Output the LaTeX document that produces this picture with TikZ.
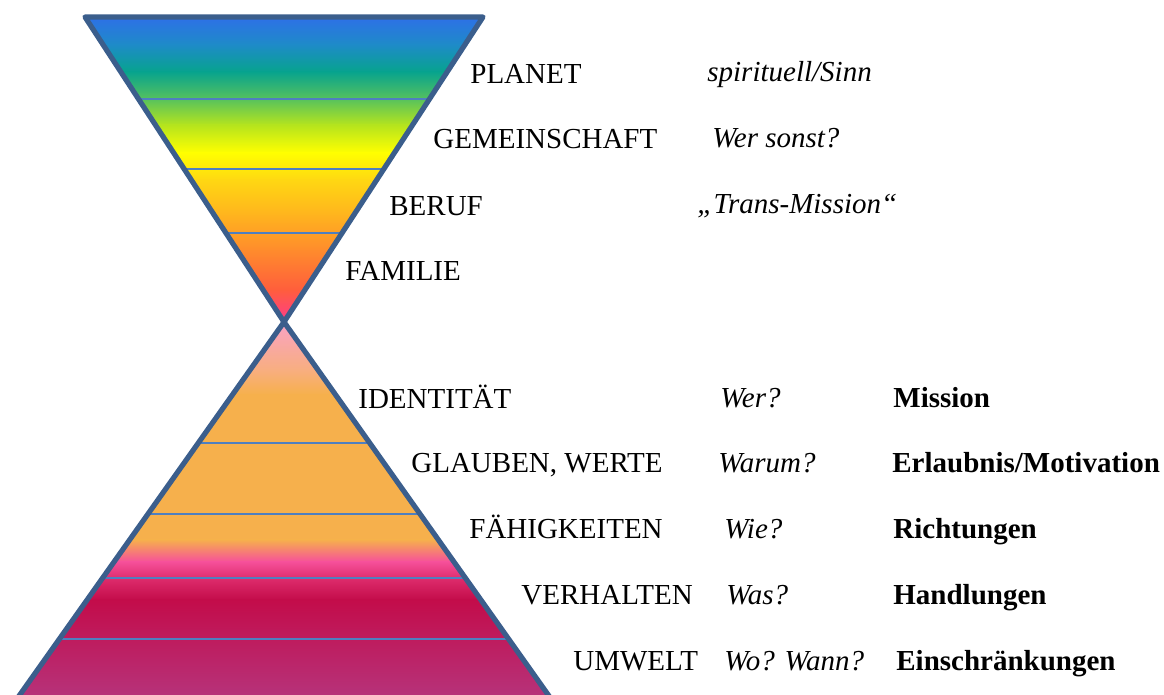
\documentclass[tikz,border=0pt]{standalone}
\usepackage{fontspec}
\setmainfont{Liberation Serif}
\usepackage{tikz}
\usetikzlibrary{positioning,calc}
\usepackage{xcolor}
\definecolor{Frame}{HTML}{3B5E8C}
\definecolor{Divider}{HTML}{4F7FC0}
% top funnel
\definecolor{TopA}{HTML}{2E6FE8}
\definecolor{TopB}{HTML}{1E8BC8}
\definecolor{TopC}{HTML}{07A38E}
\definecolor{TopD}{HTML}{52C060}
\definecolor{TopE}{HTML}{B4E41E}
\definecolor{TopF}{HTML}{FFFF00}
\definecolor{TopG}{HTML}{FFD812}
\definecolor{TopH}{HTML}{FFB41E}
\definecolor{TopI}{HTML}{FF8C2C}
\definecolor{TopJ}{HTML}{FF5E3C}
\definecolor{TopK}{HTML}{FF3A8E}
% bottom pyramid
\definecolor{BotA}{HTML}{F9A2C6}
\definecolor{BotB}{HTML}{F8AE80}
\definecolor{BotC}{HTML}{F6B04C}
\definecolor{BotD}{HTML}{F6B04C}
\definecolor{BotE}{HTML}{F6509A}
\definecolor{BotF}{HTML}{DC2A6A}
\definecolor{BotG}{HTML}{C30C4A}
\definecolor{BotH}{HTML}{BE1C5E}
\definecolor{BotI}{HTML}{B33C86}

\tikzset{
  level/.style={anchor=base west,inner sep=0pt},
  question/.style={anchor=base west,inner sep=0pt,font=\fontsize{14.5}{17}\selectfont\itshape},
  purpose/.style={anchor=base west,inner sep=0pt,font=\fontsize{14.5}{17}\selectfont\bfseries},
  divider/.style={Divider,line width=1pt},
  frame/.style={Frame,line width=2.6pt,line join=round}
}

\begin{document}
\begin{tikzpicture}[x=0.5pt,y=-0.5pt,font=\fontsize{14.5}{17}\selectfont]
  \useasboundingbox (0,0) rectangle (1164,695);
  \coordinate (tl) at (85,17);
  \coordinate (tr) at (483,17);
  \coordinate (mid) at (284,322);
  \coordinate (bl) at (2,720);
  \coordinate (br) at (566,720);

  % colour bands
  \begin{scope}
    \clip (tl) -- (tr) -- (mid) -- cycle;
    \foreach \ya/\ca/\yb/\cb in {16/TopA/45/TopB,44.5/TopB/72/TopC,71.5/TopC/98/TopD,
        97.5/TopD/125/TopE,124.5/TopE/153/TopF,152.5/TopF/180/TopG,179.5/TopG/215/TopH,
        214.5/TopH/250/TopI,249.5/TopI/290/TopJ,289.5/TopJ/323/TopK}
      \shade[top color=\ca,bottom color=\cb] (80,\ya) rectangle (490,\yb);
  \end{scope}
  \begin{scope}
    \clip (0,0) rectangle (1164,695);
    \clip (mid) -- (br) -- (bl) -- cycle;
    \foreach \ya/\ca/\yb/\cb in {321/BotA/370/BotB,369.5/BotB/395/BotC,394.5/BotC/540/BotD,
        539.5/BotD/562/BotE,561.5/BotE/580/BotF,579.5/BotF/600/BotG,599.5/BotG/640/BotH,
        639.5/BotH/721/BotI}
      \shade[top color=\ca,bottom color=\cb] (0,\ya) rectangle (580,\yb);
  \end{scope}

  % layer lines
  \foreach \y in {99,169,233}
    \draw[divider] ($(tl)!{(\y-17)/305}!(mid)$) -- ($(tr)!{(\y-17)/305}!(mid)$);
  \foreach \y in {443,514,578,639}
    \draw[divider] ($(mid)!{(\y-322)/398}!(bl)$) -- ($(mid)!{(\y-322)/398}!(br)$);

  % outlines
  \begin{scope}
    \clip (0,0) rectangle (1164,695);
    \draw[frame] (tl) -- (tr) -- (mid) -- cycle;
    \draw[frame] (bl) -- (mid) -- (br);
  \end{scope}

  % upper levels
  \node[level] (planet) at (470,84) {PLANET};
  \node[level] (gemein) at (433,149) {GEMEINSCHAFT};
  \node[level] (beruf) at (389,216) {BERUF};
  \node[level] (familie) at (345,281) {FAMILIE};
  \node[question] (qplanet) at (707,82) {spirituell/Sinn};
  \node[question] (qgemein) at (712,148) {Wer sonst?};
  \node[question] (qberuf) at (697,214) {„Trans-Mission“};

  % lower levels
  \node[level] (ident) at (358,409) {IDENTITÄT};
  \node[level] (glauben) at (411,473) {GLAUBEN, WERTE};
  \node[level] (faehig) at (469,539) {FÄHIGKEITEN};
  \node[level] (verhalt) at (521,605) {VERHALTEN};
  \node[level] (umwelt) at (573,671) {UMWELT};
  \node[question] (qident) at (720,408) {Wer?};
  \node[question] (qglauben) at (718,473) {Warum?};
  \node[question] (qfaehig) at (724,539) {Wie?};
  \node[question] (qverhalt) at (726,605) {Was?};
  \node[question] (qumwelt) at (724,671) {Wo? Wann?};
  \node[purpose] (pident) at (893,408) {Mission};
  \node[purpose] (pglauben) at (892,473) {Erlaubnis/Motivation};
  \node[purpose] (pfaehig) at (893,539) {Richtungen};
  \node[purpose] (pverhalt) at (893,605) {Handlungen};
  \node[purpose] (pumwelt) at (896,671) {Einschränkungen};
\end{tikzpicture}
\end{document}
